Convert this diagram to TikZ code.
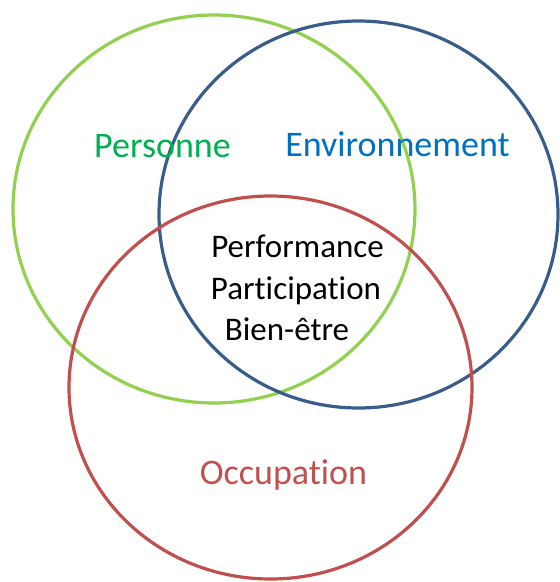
\documentclass[tikz,border=0pt]{standalone}
\usepackage{fontspec}
\setmainfont{Carlito}[Ligatures=NoCommon]
\usetikzlibrary{shapes.geometric}
\definecolor{cgreen}{HTML}{92D050}
\definecolor{cblue}{HTML}{385D8A}
\definecolor{cred}{HTML}{C0504D}
\definecolor{tgreen}{HTML}{00B050}
\definecolor{tblue}{HTML}{0070C0}
\tikzset{
  ring/.style={draw, ellipse, line width=3.2pt, inner sep=0pt, minimum width=402pt, minimum height=388pt},
  lbl/.style={anchor=base, inner sep=0pt, font=\fontsize{33}{40}\selectfont},
  biglbl/.style={lbl, font=\fontsize{36}{43}\selectfont}
}
\begin{document}
\begin{tikzpicture}[x=1pt,y=-1pt]
\useasboundingbox (0,0) rectangle (560,582);
\node[ring, draw=cgreen] (pers) at (214,209) {};
\node[ring, draw=cblue, minimum width=399pt, minimum height=387pt] (env) at (358.5,214.5) {};
\node[ring, draw=cred, minimum width=403pt, minimum height=383pt] (occ) at (270.5,387.5) {};
\node[biglbl, text=tgreen] (tp) at (162.5,157) {Personne};
\node[biglbl, text=tblue] (te) at (397.5,156) {Environnement};
\node[biglbl, text=cred] (to) at (283.5,484) {Occupation};
\node[lbl] (t1) at (297.5,257) {Performance};
\node[lbl] (t2) at (296,299) {Participation};
\node[lbl] (t3) at (287,340) {Bien-être};
\end{tikzpicture}
\end{document}
